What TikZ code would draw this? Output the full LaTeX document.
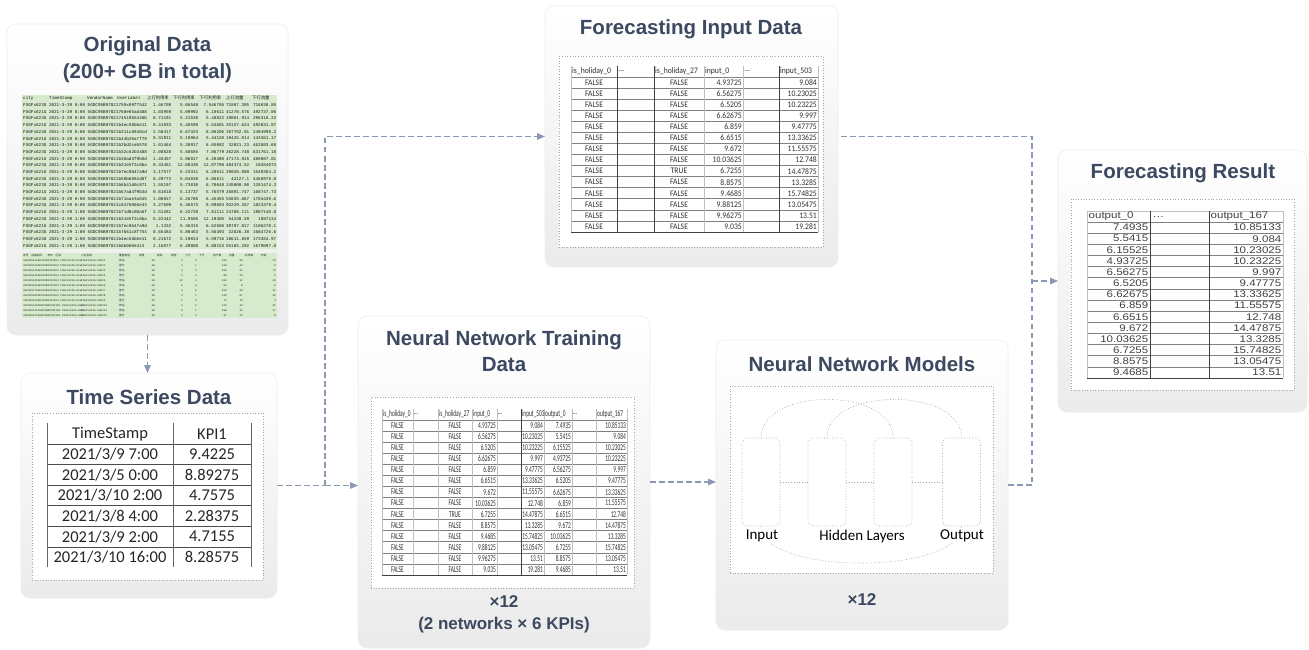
\documentclass[tikz,border=0pt]{standalone}
\usepackage{fontspec}
\setmainfont{Liberation Sans}
\newfontfamily\calf{Carlito}
\newfontfamily\monof{Liberation Mono}
\newfontfamily\cjkf{Noto Sans CJK SC}
\usetikzlibrary{arrows.meta,calc}
\definecolor{titlec}{HTML}{3C4960}
\definecolor{connc}{HTML}{8A99B2}
\definecolor{greenc}{HTML}{D5EBCB}
\definecolor{txtc}{HTML}{303030}
\newcommand{\ntf}[1]{\scalebox{0.6}[1]{#1}}
\newcommand{\fif}[1]{\scalebox{0.9}[1]{#1}}
\newcommand{\frf}[1]{\scalebox{1.2}[1]{#1}}
\tikzset{
 panel/.style={draw=black!7, line width=0.6pt, rounded corners=9pt, top color=white, bottom color=black!8, anchor=north west, inner sep=0pt, outer sep=0pt},
 dbox/.style={draw=black!35, dotted, line width=0.7pt, fill=white, anchor=north west, inner sep=0pt, outer sep=0pt},
 ptitle/.style={text=titlec, font=\bfseries\fontsize{20.5}{26.5}\selectfont, align=center, inner sep=0pt},
 psub/.style={text=titlec, font=\bfseries\fontsize{17}{22}\selectfont, align=center, inner sep=0pt},
 conn/.style={draw=connc, line width=1.4pt, dash pattern=on 5.5pt off 3.5pt, -{Triangle[length=8pt,width=6.5pt]}},
 connl/.style={draw=connc, line width=1.4pt, dash pattern=on 5.5pt off 3.5pt},
 cell/.style={inner sep=0.5pt, text=txtc},
 fitxt/.style={cell, font=\calf\fontsize{8.5}{9}\selectfont},
 nttxt/.style={cell, font=\calf\fontsize{9}{9}\selectfont},
 frtxt/.style={cell, font=\fontsize{9.6}{10}\selectfont, text=black!75},
 tstxt/.style={cell, font=\calf\fontsize{16.5}{17}\selectfont, text=black!85},
 odt/.style={inner sep=0pt, font=\monof\fontsize{4.3}{4.3}\selectfont, text=black!92},
 odc/.style={inner sep=0pt, font=\cjkf\fontsize{4.3}{4.3}\selectfont, text=black!92},
 odb/.style={inner sep=0pt, font=\monof\fontsize{2.7}{2.7}\selectfont, text=black!85},
 odbc/.style={inner sep=0pt, font=\cjkf\fontsize{2.7}{2.7}\selectfont, text=black!85},
 layer/.style={draw=black!35, dotted, line width=0.7pt, rounded corners=5pt, minimum width=38pt, minimum height=88pt, inner sep=0pt},
 nnl/.style={draw=black!35, dotted, line width=0.7pt},
 nnlab/.style={font=\calf\fontsize{15}{16}\selectfont, text=black, fill=white, inner sep=0.5pt},
 gridd/.style={draw=black!75, line width=0.7pt},
 gridm/.style={draw=black!50, line width=0.6pt},
 gridl/.style={draw=black!25, line width=0.5pt},
 gridf/.style={draw=black!12, line width=0.3pt},
}
\begin{document}
\begin{tikzpicture}[x=1pt,y=-1pt]
\useasboundingbox (0,0) rectangle (1309,650);
\fill[white] (0,0) rectangle (1309,650);

% ---------- panels ----------
\node[panel, minimum width=281, minimum height=311] (od) at (7,24) {};
\node[panel, minimum width=256, minimum height=225] (ts) at (21,373) {};
\node[panel, minimum width=293, minimum height=261] (fi) at (545,6) {};
\node[panel, minimum width=292, minimum height=332] (nt) at (358,316) {};
\node[panel, minimum width=292, minimum height=290] (nm) at (716,340) {};
\node[panel, minimum width=249, minimum height=262] (fr) at (1058,150) {};

% ---------- titles ----------
\node[ptitle] (odtitle) at (147.5,59.5) {Original Data\\(200+ GB in total)};
\node[ptitle] (tstitle) at (149,397) {Time Series Data};
\node[ptitle] (fititle) at (691,29) {Forecasting Input Data};
\node[ptitle] (nttitle) at (504,351) {Neural Network Training\\Data};
\node[ptitle] (nmtitle) at (862,364) {Neural Network Models};
\node[ptitle] (frtitle) at (1183,173) {Forecasting Result};
\node[psub] (ntsub) at (504,614) {×12\\(2 networks × 6 KPIs)};
\node[psub] (nmsub) at (862,600) {×12};

% ---------- original data (spreadsheet image) ----------
\fill[greenc] (22,95) rectangle (277,249);
\fill[greenc] (22,253) rectangle (277,318);
\foreach \gx in {48,86,116,146,172,199,225,250}
  \draw[gridf] (\gx,95) -- (\gx,249);
\foreach \gr in {1,...,22}
  \draw[gridf] (22,{95+6.7*\gr}) -- (277,{95+6.7*\gr});
\node[odt, anchor=west] (odh1) at (23,98.35) {city};
\node[odt, anchor=west] (odh2) at (49,98.35) {TimeStamp};
\node[odt, anchor=west] (odh3) at (87,98.35) {VendorName};
\node[odt, anchor=west] (odh4) at (117,98.35) {UserLabel};
\node[odc, anchor=west] (odh5) at (147,98.35) {上行利用率};
\node[odc, anchor=west] (odh6) at (173,98.35) {下行利用率};
\node[odc, anchor=west] (odh7) at (199.5,98.35) {下行利用率};
\node[odc, anchor=west] (odh8) at (226,98.35) {上行流量};
\node[odc, anchor=west] (odh9) at (252,98.35) {下行流量};
\foreach \cid/\hx/\va/\vb/\vc/\vd/\ve [count=\r] in {
 FSGFx623G/5GDC95B97821750x09f7542/1.46709/5.06548/7.546705/71887.305/716038.85,
 FSGFx621G/5GDC95B97821760e65ad488/1.03959/5.09992/6.10611/41270.576/492737.06,
 FSGFx623G/5GDC95B9782174519b5426b/0.71191/5.21530/5.48822/19081.914/296318.22,
 FSGFx621G/5GDC95B97821b4ec58b6e11/0.41933/5.40598/5.54601/25157.624/492831.07,
 FSGFx623G/5GDC95B97821b311c8840cd/2.58417/6.67323/8.06206/107702.01/2494998.2,
 FSGFx621G/5GDC95B97821b44b20a7f79/0.31911/5.10964/5.44120/19425.014/143361.17,
 FSGFx623G/5GDC95B97821b2bd2ceb578/1.01464/5.38917/6.05082/32821.23/462083.68,
 FSGFx623G/5GDC95B97821b32c62b3488/2.08828/5.68685/7.06779/26228.748/631761.18,
 FSGFx621G/5GDC95B97821b38ad3f9b5d/1.45457/5.96817/6.20480/47174.915/480087.01,
 FSGFx623G/5GDC95B97821b31e5f2c8ba/0.33451/12.08330/12.07798/484374.52/10384073,
 FSGFx621G/5GDC95B97821b7ec9b47a9d/3.17577/5.23311/6.20611/29028.088/1549304.1,
 FSGFx623G/5GDC95B97821b50b6082d8f/0.29773/5.04838/6.06611/42127.1/4468976.8,
 FSGFx623G/5GDC95B97821b6b41d0c871/1.55197/5.73030/6.70648/245000.00/1201474.3,
 FSGFx621G/5GDC95B97821b67ad4f9b3d/0.61018/5.13737/5.76579/26801.747/168747.73,
 FSGFx623G/5GDC95B97821b71aae3a045/1.06917/6.26780/6.45455/53835.667/1704430.6,
 FSGFx623G/5GDC95B97821c0476066e43/3.27609/6.36573/8.09003/92229.267/1823379.4,
 FSGFx621G/5GDC95B97821b71d8c08a6f/2.51281/6.22738/7.81111/24788.111/1987140.8,
 FSGFx623G/5GDC95B97821b31e5f2c8ba/5.22442/11.9586/12.19405/54238.59/1087134,
 FSGFx621G/5GDC95B97821b7ec9b47a9d/1.1332/5.36315/6.52606/39787.817/1106270.1,
 FSGFx623G/5GDC95B97821b7b61c8f754/0.65484/5.80463/5.56493/22826.38/1684726.6,
 FSGFx623G/5GDC95B97821b4ec58b6e11/0.21672/5.19024/5.59716/18611.659/173384.97,
 FSGFx621G/5GDC95B97821b6b060e413/2.16877/6.49888/8.80153/55165.192/1679097.8} {
  \pgfmathsetmacro\yy{95+6.7*\r+3.35}
  \ifnum\r<17 \def\tm{0:00}\else\def\tm{1:00}\fi
  \node[odt, anchor=west] (od-\r-a) at (23,\yy) {\cid\ 2021-3-29 \tm\ \hx};
  \node[odt, anchor=east] (od-\r-b) at (171.5,\yy) {\va};
  \node[odt, anchor=east] (od-\r-c) at (198.5,\yy) {\vb};
  \node[odt, anchor=east] (od-\r-d) at (224.5,\yy) {\vc};
  \node[odt, anchor=east] (od-\r-e) at (249.5,\yy) {\vd};
  \node[odt, anchor=east] (od-\r-f) at (276.5,\yy) {\ve};
}
% lower sheet
\foreach \gx in {80,118,138,156,170,184,198,212,228,244,260}
  \draw[gridf] (\gx,253) -- (\gx,318);
\node[odbc, anchor=west] (odbh1) at (23,255.5) {序号\quad 设备名称\qquad 地市\quad 区县};
\node[odbc, anchor=west] (odbh2) at (81,255.5) {小区名称};
\node[odbc, anchor=west] (odbh3) at (119,255.5) {覆盖类型};
\node[odbc, anchor=west] (odbh4) at (139,255.5) {场景};
\node[odbc, anchor=west] (odbh5) at (157,255.5) {频段};
\node[odbc, anchor=west] (odbh6) at (171,255.5) {带宽};
\node[odbc, anchor=west] (odbh7) at (185,255.5) {上行};
\node[odbc, anchor=west] (odbh8) at (199,255.5) {下行};
\node[odbc, anchor=west] (odbh9) at (213,255.5) {用户数};
\node[odbc, anchor=west] (odbh10) at (229,255.5) {流量};
\node[odbc, anchor=west] (odbh11) at (245,255.5) {利用率};
\node[odbc, anchor=west] (odbh12) at (261,255.5) {时延};
\foreach \ca/\cb/\cc/\cd/\ce/\cf/\cg [count=\r] in {
 宏站/38/4/0/236/58/13, 室分/38/4/1/120/44/9, 宏站/38/4/3/320/61/72, 室分/38/2/0/88/13/5,
 宏站/38/12/4/512/91/48, 宏站/38/0/0/64/8/2, 室分/38/4/0/156/29/11, 宏站/38/4/1/410/57/36,
 室分/38/1/0/72/19/4, 宏站/38/4/2/276/42/21, 宏站/38/6/1/198/35/17, 室分/38/3/0/97/22/8} {
  \pgfmathsetmacro\yy{253+5*\r+2.5}
  \node[odb, anchor=west] (odb-\r-a) at (23,\yy) {4403051\r 5GDC95B97821b4 FSGFx623G-HLW};
  \node[odb, anchor=west] (odb-\r-b) at (81,\yy) {FSGFx623G-5GDC\r};
  \node[odbc, anchor=west] (odb-\r-c) at (119,\yy) {\ca};
  \node[odb, anchor=east] (odb-\r-d) at (155,\yy) {\cb};
  \node[odb, anchor=east] (odb-\r-e) at (183,\yy) {\cc};
  \node[odb, anchor=east] (odb-\r-f) at (197,\yy) {\cd};
  \node[odb, anchor=east] (odb-\r-g) at (227,\yy) {\ce};
  \node[odb, anchor=east] (odb-\r-h) at (243,\yy) {\cf};
  \node[odb, anchor=east] (odb-\r-i) at (276,\yy) {\cg};
}

% ---------- time series data ----------
\node[dbox, minimum width=231, minimum height=167] (tsb) at (32,413) {};
\foreach \k in {0,...,5}
  \draw[black!70, line width=1pt] (47,{444+20.6*\k}) -- (251,{444+20.6*\k});
\foreach \vx in {47,173,251}
  \draw[black!60, line width=0.9pt] (\vx,423) -- (\vx,567);
\node[tstxt] (tsh1) at (110,434) {TimeStamp};
\node[tstxt] (tsh2) at (212,434) {KPI1};
\foreach \ta/\tb [count=\r from 0] in {{2021/3/9 7:00}/9.4225, {2021/3/5 0:00}/8.89275, {2021/3/10 2:00}/4.7575,
  {2021/3/8 4:00}/2.28375, {2021/3/9 2:00}/4.7155, {2021/3/10 16:00}/8.28575} {
  \pgfmathsetmacro\yy{444+20.6*\r+10.3}
  \node[tstxt] (ts-\r-a) at (110,\yy) {\ta};
  \node[tstxt] (ts-\r-b) at (212,\yy) {\tb};
}

% ---------- forecasting input data ----------
\node[dbox, minimum width=264, minimum height=191] (fib) at (559,56) {};
\foreach \r in {0,...,13}
  \draw[gridm] (571,{77+11.07*\r}) -- (818,{77+11.07*\r});
\draw[gridd, line width=1pt] (571,232) -- (818,232);
\foreach \vx in {571,704,743,818}
  \draw[gridl] (\vx,66) -- (\vx,232);
\foreach \vx in {617,654,779}
  \draw[gridd] (\vx,66) -- (\vx,232);
\node[fitxt, anchor=west] (fih1) at (571.5,71.5) {\fif{is\_holiday\_0}};
\node[fitxt, anchor=west] (fih2) at (618,71.5) {\fif{…}};
\node[fitxt, anchor=west] (fih3) at (654.5,71.5) {\fif{is\_holiday\_27}};
\node[fitxt, anchor=west] (fih4) at (704.5,71.5) {\fif{input\_0}};
\node[fitxt, anchor=west] (fih5) at (744,71.5) {\fif{…}};
\node[fitxt, anchor=west] (fih6) at (779.5,71.5) {\fif{input\_503}};
\foreach \ph/\pa/\pb [count=\r from 0] in {
 FALSE/4.93725/9.084, FALSE/6.56275/10.23025, FALSE/6.5205/10.23225, FALSE/6.62675/9.997,
 FALSE/6.859/9.47775, FALSE/6.6515/13.33625, FALSE/9.672/11.55575, FALSE/10.03625/12.748,
 TRUE/6.7255/14.47875, FALSE/8.8575/13.3285, FALSE/9.4685/15.74825, FALSE/9.88125/13.05475,
 FALSE/9.96275/13.51, FALSE/9.035/19.281} {
  \pgfmathsetmacro\yy{77+11.07*\r+5.6}
  \node[fitxt] (fi-\r-a) at (594,\yy) {\fif{FALSE}};
  \node[fitxt] (fi-\r-b) at (679,\yy) {\fif{\ph}};
  \node[fitxt, anchor=east] (fi-\r-c) at (742.5,\yy) {\fif{\pa}};
  \node[fitxt, anchor=east] (fi-\r-d) at (817.5,\yy) {\fif{\pb}};
}

% ---------- neural network training data ----------
\node[dbox, minimum width=263, minimum height=191] (ntb) at (371,397) {};
\foreach \r in {0,...,13}
  \draw[gridm] (382,{420+11.07*\r}) -- (627,{420+11.07*\r});
\draw[gridd, line width=1pt] (382,575) -- (627,575);
\foreach \vx in {382,413,438,472,497,544,572,596,627}
  \draw[gridl] (\vx,409) -- (\vx,575);
\draw[gridd] (521,409) -- (521,575);
\node[nttxt, anchor=west] (nth1) at (382.5,414.5) {\ntf{is\_holiday\_0}};
\node[nttxt, anchor=west] (nth2) at (413.5,414.5) {\ntf{…}};
\node[nttxt, anchor=west] (nth3) at (438.5,414.5) {\ntf{is\_holiday\_27}};
\node[nttxt, anchor=west] (nth4) at (472.5,414.5) {\ntf{input\_0}};
\node[nttxt, anchor=west] (nth5) at (497.5,414.5) {\ntf{…}};
\node[nttxt, anchor=west] (nth6) at (521.5,414.5) {\ntf{input\_503}};
\node[nttxt, anchor=west] (nth7) at (544.5,414.5) {\ntf{output\_0}};
\node[nttxt, anchor=west] (nth8) at (572.5,414.5) {\ntf{…}};
\node[nttxt, anchor=west] (nth9) at (596.5,414.5) {\ntf{output\_167}};
\foreach \ph/\pa/\pb/\pc/\pd [count=\r from 0] in {
 FALSE/4.93725/9.084/7.4935/10.85133,
 FALSE/6.56275/10.23025/5.5415/9.084,
 FALSE/6.5205/10.23225/6.15525/10.23025,
 FALSE/6.62675/9.997/4.93725/10.23225,
 FALSE/6.859/9.47775/6.56275/9.997,
 FALSE/6.6515/13.33625/6.5205/9.47775,
 FALSE/9.672/11.55575/6.62675/13.33625,
 FALSE/10.03625/12.748/6.859/11.55575,
 TRUE/6.7255/14.47875/6.6515/12.748,
 FALSE/8.8575/13.3285/9.672/14.47875,
 FALSE/9.4685/15.74825/10.03625/13.3285,
 FALSE/9.88125/13.05475/6.7255/15.74825,
 FALSE/9.96275/13.51/8.8575/13.05475,
 FALSE/9.035/19.281/9.4685/13.51} {
  \pgfmathsetmacro\yy{420+11.07*\r+5.6}
  \node[nttxt] (nt-\r-a) at (397.5,\yy) {\ntf{FALSE}};
  \node[nttxt] (nt-\r-b) at (455,\yy) {\ntf{\ph}};
  \node[nttxt, anchor=east] (nt-\r-c) at (496.5,\yy) {\ntf{\pa}};
  \node[nttxt, anchor=east] (nt-\r-d) at (543.5,\yy) {\ntf{\pb}};
  \node[nttxt, anchor=east] (nt-\r-e) at (571.5,\yy) {\ntf{\pc}};
  \node[nttxt, anchor=east] (nt-\r-f) at (626.5,\yy) {\ntf{\pd}};
}

% ---------- neural network models ----------
\node[dbox, minimum width=263, minimum height=187] (nmb) at (730,386) {};
\node[layer] (l1) at (761,482) {};
\node[layer] (l2) at (827,482) {};
\node[layer] (l3) at (893,482) {};
\node[layer] (l4) at (961.5,482) {};
\draw[nnl] (l1.east) -- (l2.west);
\draw[nnl] (l2.east) -- (l3.west);
\draw[nnl] (l3.east) -- (l4.west);
\draw[nnl] (l1.north) .. controls +(0,-51) and +(0,-51) .. (l3.north);
\draw[nnl] (l2.north) .. controls +(0,-51) and +(0,-51) .. (l4.north);
\draw[nnl] (l1.south) .. controls +(0,49) and +(0,49) .. (l4.south);
\node[nnlab] (lin) at (762,536) {Input};
\node[nnlab] (lhid) at (862,536) {Hidden Layers};
\node[nnlab] (lout) at (962,536) {Output};

% ---------- forecasting result ----------
\node[dbox, minimum width=223, minimum height=191] (frb) at (1071,199) {};
\draw[gridl] (1087,211) -- (1283,211);
\foreach \r in {0,...,13}
  \draw[gridm] (1087,{222+11.14*\r}) -- (1283,{222+11.14*\r});
\draw[gridd, line width=1pt] (1087,378) -- (1283,378);
\foreach \vx in {1087,1283}
  \draw[gridl] (\vx,211) -- (\vx,378);
\foreach \vx in {1150,1209}
  \draw[gridd] (\vx,211) -- (\vx,378);
\node[frtxt, anchor=west] (frh1) at (1088,216.5) {\frf{output\_0}};
\node[frtxt, anchor=west] (frh2) at (1152,216.5) {\frf{…}};
\node[frtxt, anchor=west] (frh3) at (1210,216.5) {\frf{output\_167}};
\foreach \pc/\pd [count=\r from 0] in {
 7.4935/10.85133, 5.5415/9.084, 6.15525/10.23025, 4.93725/10.23225, 6.56275/9.997,
 6.5205/9.47775, 6.62675/13.33625, 6.859/11.55575, 6.6515/12.748, 9.672/14.47875,
 10.03625/13.3285, 6.7255/15.74825, 8.8575/13.05475, 9.4685/13.51} {
  \pgfmathsetmacro\yy{222+11.14*\r+5.6}
  \node[frtxt, anchor=east] (fr-\r-a) at (1149,\yy) {\frf{\pc}};
  \node[frtxt, anchor=east] (fr-\r-b) at (1282,\yy) {\frf{\pd}};
}

% ---------- connectors ----------
\coordinate (j1) at (325,485.5);
\coordinate (j2) at (1032,281);
\draw[conn] (od.south) -- (od.south |- ts.north);
\draw[connl] (ts.east) -- (j1);
\draw[conn] (j1) |- (fi.west);
\draw[conn] (j1) -- (j1 -| nt.west);
\draw[conn] (nt.east) -- (nt.east -| nm.west);
\draw[connl] (nm.east) -- (nm.east -| j2) |- (fi.east);
\draw[conn] (j2) -- (fr.west);
\end{tikzpicture}
\end{document}
